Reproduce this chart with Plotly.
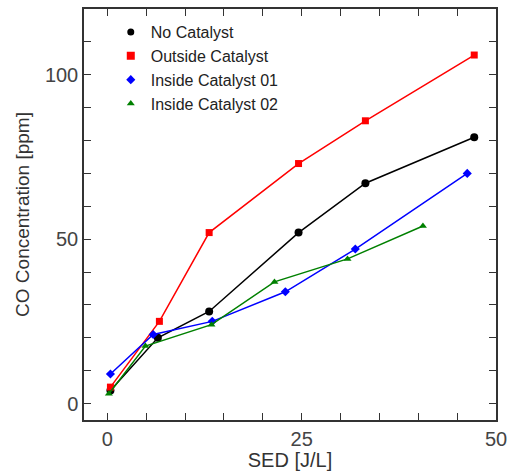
import plotly.graph_objects as go

x_no = [0.4, 6.5, 13.1, 24.6, 33.2, 47.2]
y_no = [4.0, 20.0, 28.0, 52.0, 67.0, 81.0]
x_out = [0.4, 6.7, 13.1, 24.6, 33.2, 47.2]
y_out = [5.0, 25.0, 52.0, 73.0, 86.0, 106.0]
x_in1 = [0.4, 5.9, 13.5, 22.9, 31.9, 46.3]
y_in1 = [9.0, 21.0, 25.0, 34.0, 47.0, 70.0]
x_in2 = [0.2, 4.9, 13.4, 21.5, 30.9, 40.6]
y_in2 = [3.0, 17.5, 24.0, 37.0, 44.0, 54.0]

names = ["No Catalyst", "Outside Catalyst", "Inside Catalyst 01", "Inside Catalyst 02"]
colors = ["black", "#ff0000", "#0000ff", "#008000"]
symbols = ["circle", "square", "diamond", "triangle-up"]
sizes = [8, 7, 7, 7]
leg_sizes = [7, 8, 7, 7]
xs = [x_no, x_out, x_in1, x_in2]
ys = [y_no, y_out, y_in1, y_in2]

fig = go.Figure()
for x, y, n, c, s, sz in zip(xs, ys, names, colors, symbols, sizes):
    fig.add_trace(go.Scatter(x=x, y=y, mode="lines+markers", name=n, showlegend=False,
                             line=dict(color=c, width=1.5),
                             marker=dict(symbol=s, size=sz, color=c)))
for n, c, s, sz in zip(names, colors, symbols, leg_sizes):
    fig.add_trace(go.Scatter(x=[None], y=[None], mode="markers", name=n,
                             marker=dict(symbol=s, size=sz, color=c)))

axis_common = dict(showgrid=False, zeroline=False, showline=True, linecolor="#333333",
                   linewidth=1.5, mirror="ticks", ticks="inside", ticklen=7,
                   tickcolor="#333333", tickwidth=1.2, automargin=False,
                   tickfont=dict(family="Liberation Sans, Arial", size=20, color="#444444"))

fig.update_layout(
    width=509, height=471,
    margin=dict(l=84, r=13, t=9, b=51),
    plot_bgcolor="white", paper_bgcolor="white",
    font=dict(family="Liberation Sans, Arial", color="#333333"),
    xaxis=dict(range=[-3, 50], tick0=0, dtick=25,
               minor=dict(dtick=5, ticks="inside", ticklen=7, tickcolor="#333333"),
               title=dict(text="SED [J/L]", font=dict(size=20, color="#333333"), standoff=4),
               **axis_common),
    yaxis=dict(range=[-5, 120], tick0=0, dtick=50,
               minor=dict(dtick=10, ticks="inside", ticklen=7, tickcolor="#333333"),
               title=dict(text="CO Concentration [ppm]", font=dict(size=19, color="#333333"), standoff=10),
               **axis_common),
    legend=dict(x=0.065, y=0.985, xanchor="left", yanchor="top",
                bgcolor="rgba(0,0,0,0)", font=dict(size=16, color="#222222"),
                tracegroupgap=0),
)

fig.write_html("out.html", config={"displayModeBar": False},
               post_script="document.body.style.margin='0';document.body.style.overflow='hidden';")
